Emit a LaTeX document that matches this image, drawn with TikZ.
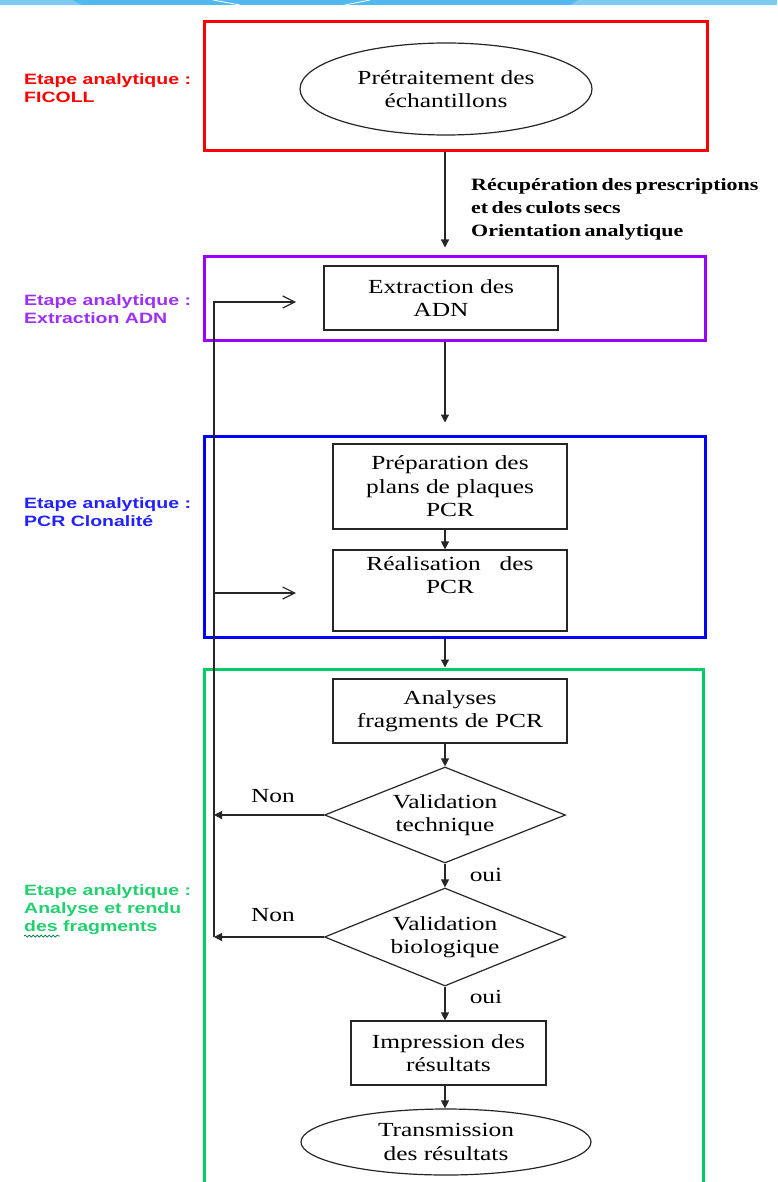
\documentclass[tikz,border=0pt]{standalone}
\usepackage{fontspec}
\usetikzlibrary{arrows.meta,shapes.geometric,decorations.pathmorphing}
\newfontfamily\boxfont{Liberation Serif}[FakeStretch=1.27]
\newfontfamily\lblfont{Liberation Sans}[FakeStretch=1.3]
\definecolor{stred}{HTML}{FF0000}
\definecolor{stpurple}{HTML}{9900FF}
\definecolor{stblue}{HTML}{0000FF}
\definecolor{stgreen}{HTML}{00CC66}
\definecolor{txpurple}{HTML}{9D30F5}
\definecolor{txblue}{HTML}{2222FF}
\definecolor{txgreen}{HTML}{22D070}
\definecolor{bandlight}{HTML}{7DCBF3}
\definecolor{banddark}{HTML}{52B9F0}
\definecolor{ink}{HTML}{262626}
\newcommand{\tightspace}{\spaceskip=0.2em\relax}
\begin{document}
\begin{tikzpicture}[x=1pt,y=-1pt,
  stage/.style={draw=#1, line width=3pt, inner sep=0pt},
  procbox/.style={draw=ink, line width=1.2pt, inner sep=0pt, align=center,
    font=\boxfont\fontsize{20}{23.5}\selectfont},
  oval/.style={procbox, ellipse},
  decision/.style={procbox, diamond, aspect=2.5},
  plain/.style={inner sep=0pt, font=\boxfont\fontsize{20}{23.5}\selectfont},
  stagelabel/.style={inner sep=0pt, anchor=west, align=left, text=#1,
    font=\lblfont\bfseries\fontsize{15}{18}\selectfont},
  arr/.style={draw=ink, line width=1.2pt, -{Triangle[length=8pt,width=8pt]}},
  openarr/.style={draw=ink, line width=1.2pt, -{Straight Barb[length=12pt,width=12pt,line width=1.2pt]}}
]
\clip (0,0) rectangle (777,1182);
\fill[white] (0,0) rectangle (777,1182);
% header band
\fill[bandlight] (0,0) rectangle (777,5);
\fill[banddark] (72,0) -- (578,0) -- (570,5) -- (82,5) -- cycle;
\draw[white, line width=0.8pt] (213,0) -- (240,5);
\draw[white, line width=0.8pt] (345,5) -- (370,0);

% stage frames
\node[stage=stred, minimum width=503pt, minimum height=129pt] (ficoll) at (455.5,86.5) {};
\node[stage=stpurple, minimum width=501pt, minimum height=84pt] (extrstage) at (454.5,298) {};
\node[stage=stblue, minimum width=501pt, minimum height=201pt] (pcrstage) at (454.5,536.5) {};
\node[stage=stgreen, minimum width=499pt, minimum height=531pt] (anastage) at (453.5,934.5) {};

% stage labels
\node[stagelabel=stred] (lblred) at (24,88) {Etape analytique :\\FICOLL};
\node[stagelabel=txpurple] (lblpurple) at (24,309) {Etape analytique :\\Extraction ADN};
\node[stagelabel=txblue] (lblblue) at (24,512) {Etape analytique :\\PCR Clonalité};
\node[stagelabel=txgreen] (lblgreen) at (24,910) {Etape analytique :\\Analyse et rendu\\des fragments};
\draw[stgreen!60!black, line width=0.7pt,
  decorate, decoration={snake, amplitude=1pt, segment length=4pt}] (24,936) -- (60,936);

% process nodes
\coordinate (axis) at (445,0);
\node[oval, minimum width=292pt, minimum height=92pt] (pret) at (446,89) {Prétraitement des\\échantillons};
\node[procbox, minimum width=234pt, minimum height=64pt] (extr) at (441,298) {Extraction des\\ADN};
\node[procbox, minimum width=234pt, minimum height=85pt] (prep) at (450,486.5) {Préparation des\\plans de plaques\\PCR};
\node[procbox, minimum width=234pt, minimum height=81pt] (real) at (450,590.5) {Réalisation\ \ \ des\\PCR\\\strut};
\node[procbox, minimum width=234pt, minimum height=64pt] (ana) at (450,711) {Analyses\\fragments de PCR};
\node[decision, minimum width=241pt, minimum height=96pt] (vtech) at (445,815) {Validation\\technique};
\node[decision, minimum width=241pt, minimum height=98pt] (vbio) at (445,937) {Validation\\biologique};
\node[procbox, minimum width=195pt, minimum height=64pt] (impr) at (448.5,1053) {Impression des\\résultats};
\node[oval, minimum width=290pt, minimum height=66pt] (trans) at (446,1142) {Transmission\\des résultats};

% annotation
\node[inner sep=0pt, anchor=west, align=left,
  font=\boxfont\bfseries\fontsize{17.3}{23}\selectfont\tightspace] (recup) at (471,209)
  {Récupération des prescriptions\\et des culots secs\\Orientation analytique};

% main flow
\draw[arr, shorten >=7pt] (axis |- ficoll.south) -- (axis |- extrstage.north);
\draw[arr, shorten >=12pt] (axis |- extrstage.south) -- (axis |- pcrstage.north);
\draw[arr] (axis |- prep.south) -- (axis |- real.north);
\draw[arr] (axis |- pcrstage.south) -- (axis |- anastage.north);
\draw[arr] (axis |- ana.south) -- (vtech.north);
\draw[arr] (vtech.south) -- (vbio.north);
\draw[arr] (vbio.south) -- (axis |- impr.north);
\draw[arr] (axis |- impr.south) -- (axis |- trans.north);

% oui / non
\node[plain] (oui1) at (486,875) {oui};
\node[plain] (oui2) at (486,997) {oui};
\node[plain] (non1) at (273,796) {Non};
\node[plain] (non2) at (273,915) {Non};

% feedback loop
\coordinate (fbtop) at (214,302);
\coordinate (fbmid) at (214,593);
\coordinate (tip1) at (296,302);
\coordinate (tip2) at (296,593);
\draw[arr] (vtech.west) -- (vtech.west -| fbtop);
\draw[arr] (vbio.west) -- (vbio.west -| fbtop);
\draw[openarr] (vbio.west -| fbtop) -- (fbtop) -- (tip1);
\draw[openarr] (fbmid) -- (tip2);
\end{tikzpicture}
\end{document}
